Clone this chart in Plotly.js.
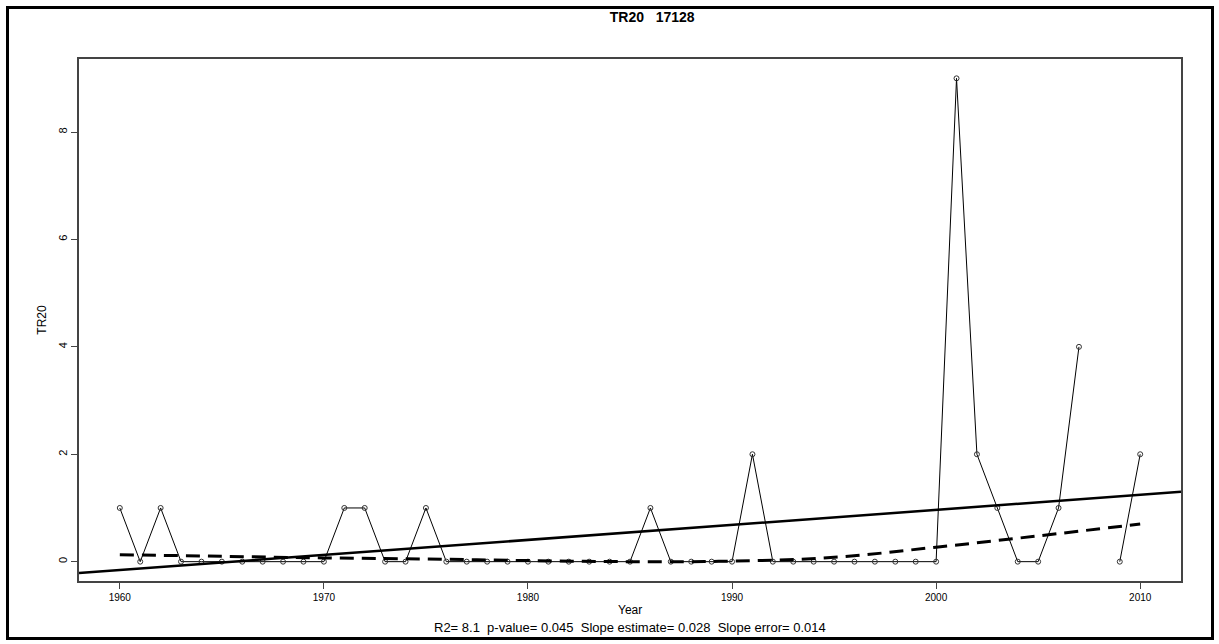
<!DOCTYPE html>
<html>
<head>
<script src="https://cdn.plot.ly/plotly-3.0.1.min.js"></script>
<style>
body { margin: 0; background: white; }
#frame { position: absolute; left: 6px; top: 6px; width: 1202px; height: 628px; border: 3px solid black; pointer-events: none; z-index: 5; }
</style>
</head>
<body>
<div id="plot" style="width:1219px;height:644px;"></div>
<div id="frame"></div>
<script>
var years = [1960,1961,1962,1963,1964,1965,1966,1967,1968,1969,1970,1971,1972,1973,1974,1975,1976,1977,1978,1979,
  1980,1981,1982,1983,1984,1985,1986,1987,1988,1989,1990,1991,1992,1993,1994,1995,1996,1997,1998,1999,
  2000,2001,2002,2003,2004,2005,2006,2007,2008,2009,2010];
var tr20 = [1,0,1,0,0,0,0,0,0,0,0,1,1,0,0,1,0,0,0,0,
  0,0,0,0,0,0,1,0,0,0,0,2,0,0,0,0,0,0,0,0,
  0,9,2,1,0,0,1,4,null,0,2];
var smoothYears = [1960,1965,1970,1975,1980,1985,1990,1995,2000,2005,2010];
var smoothVals = [0.13,0.10,0.07,0.05,0.02,0.00,0.01,0.08,0.27,0.48,0.70];
var fitYears = [1958,2012];
var fitVals = [-0.21,1.30];

var data = [{
  x: years, y: tr20, type: 'scatter', mode: 'lines+markers',
  line: {color: 'black', width: 1},
  marker: {symbol: 'circle-open', size: 5, color: '#333', line: {width: 1}},
  connectgaps: false
},{
  x: smoothYears, y: smoothVals, type: 'scatter', mode: 'lines',
  line: {color: 'black', width: 3, dash: '14px,8px', shape: 'spline'}
},{
  x: fitYears, y: fitVals, type: 'scatter', mode: 'lines',
  line: {color: 'black', width: 2.5}
}];

var layout = {
  width: 1219, height: 644,
  margin: {l: 79, r: 38, t: 59, b: 63},
  showlegend: false,
  paper_bgcolor: 'white', plot_bgcolor: 'white',
  font: {family: 'Liberation Sans, Arial', color: 'black', size: 11},
  title: {text: '<b>TR20   17128</b>', x: 0.535, y: 0.974, yanchor: 'middle', font: {size: 14}},
  xaxis: {range: [1958, 2012], tickvals: [1960,1970,1980,1990,2000,2010],
    showline: true, mirror: true, linecolor: '#444', linewidth: 1.5,
    ticks: 'outside', ticklen: 6, tickcolor: '#444', showgrid: false, zeroline: false,
    tickfont: {size: 10}},
  yaxis: {range: [-0.36, 9.36], tickvals: [0,2,4,6,8], tickangle: -90,
    showline: true, mirror: true, linecolor: '#444', linewidth: 1.5,
    ticks: 'outside', ticklen: 6, tickcolor: '#444', showgrid: false, zeroline: false,
    title: {text: 'TR20', standoff: 8, font: {size: 12}}, tickfont: {size: 11}},
  annotations: [
    {text: 'Year', xref: 'paper', yref: 'paper', x: 0.5, y: -0.072, showarrow: false, font: {size: 12}},
    {text: 'R2= 8.1  p-value= 0.045  Slope estimate= 0.028  Slope error= 0.014', xref: 'paper', yref: 'paper',
      x: 0.5, y: -0.108, showarrow: false, font: {size: 13}}
  ]
};
Plotly.newPlot('plot', data, layout, {displayModeBar: false});
</script>
</body>
</html>
